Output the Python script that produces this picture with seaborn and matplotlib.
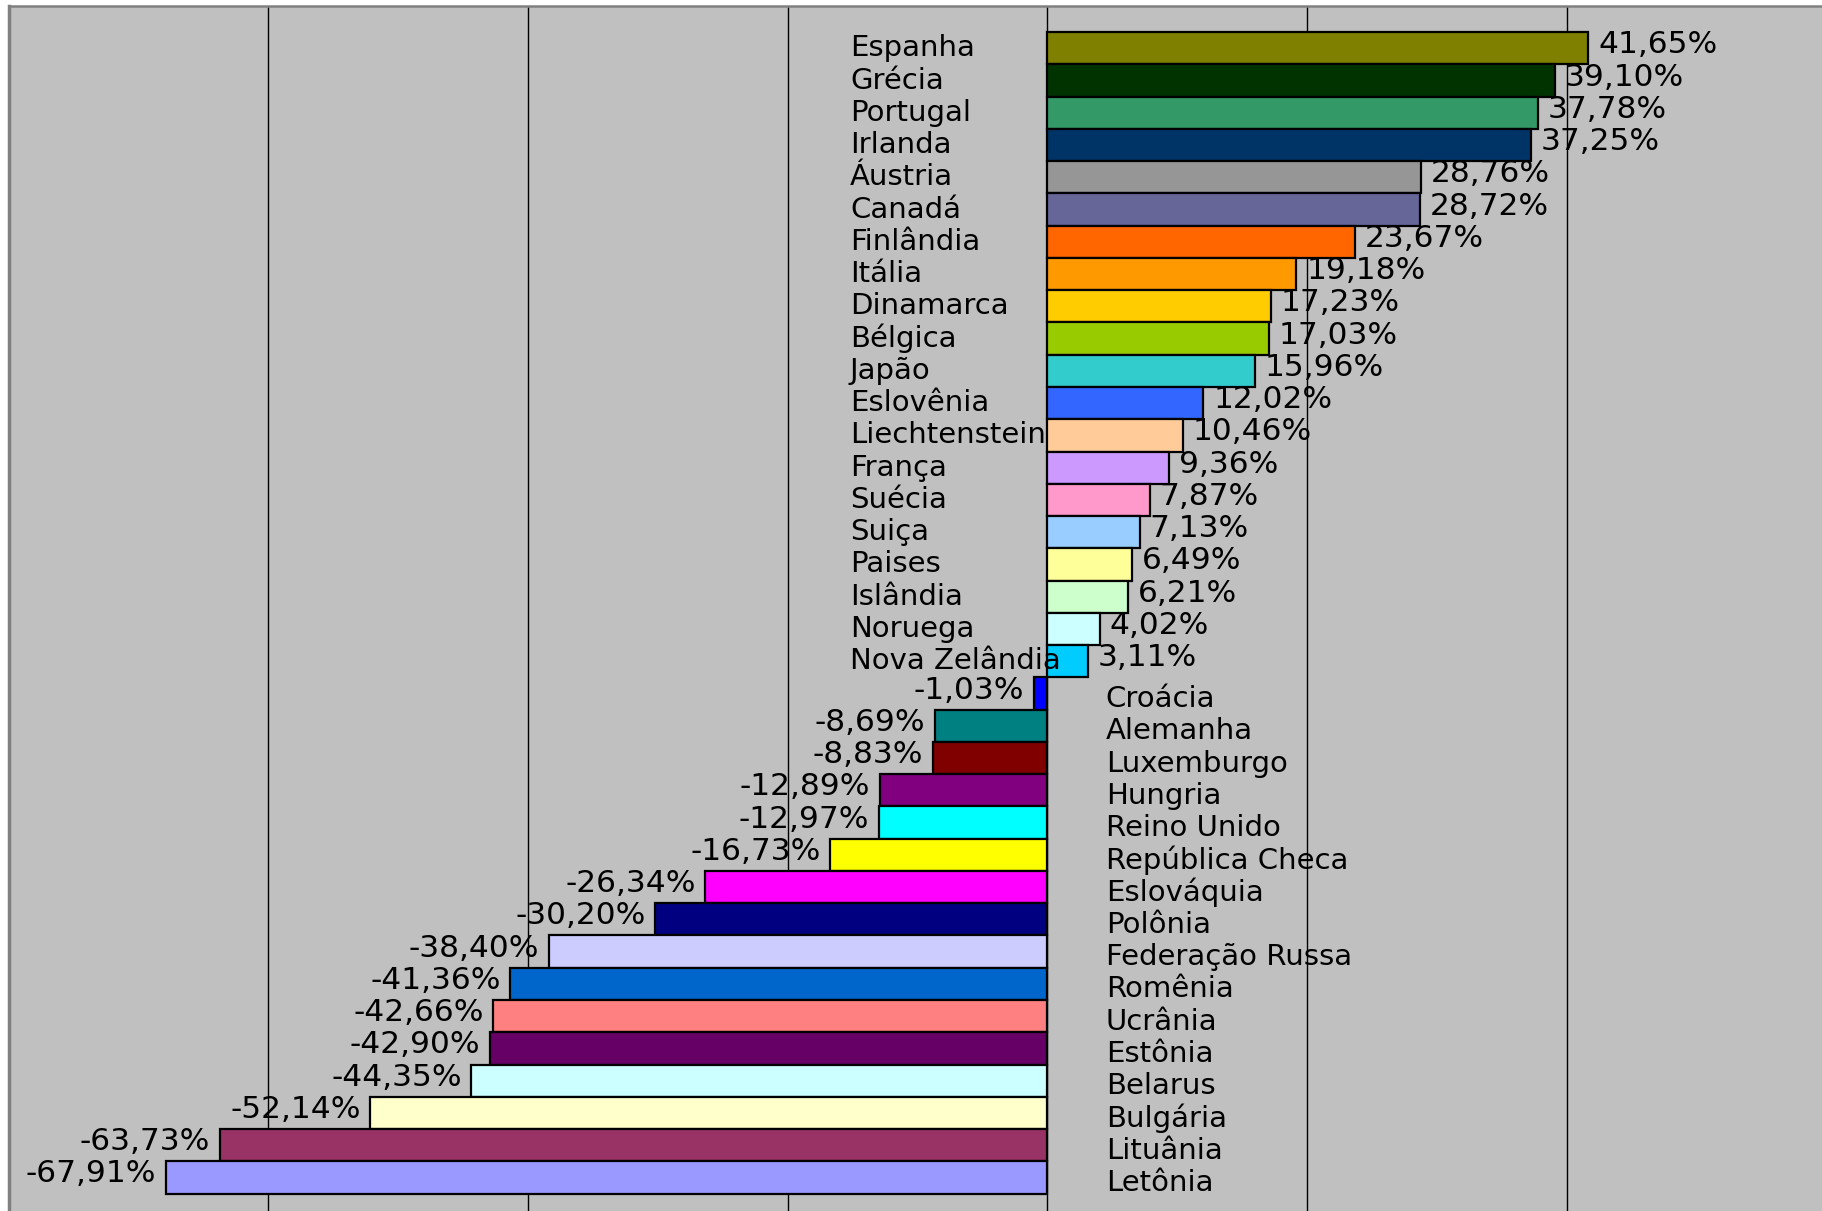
import numpy as np
import pandas as pd
import matplotlib
matplotlib.use("Agg")
import matplotlib.pyplot as plt
import seaborn as sns

# dados (variação %)
paises = ["Espanha", "Grécia", "Portugal", "Irlanda", "Áustria", "Canadá", "Finlândia",
          "Itália", "Dinamarca", "Bélgica", "Japão", "Eslovênia", "Liechtenstein", "França",
          "Suécia", "Suiça", "Paises", "Islândia", "Noruega", "Nova Zelândia",
          "Croácia", "Alemanha", "Luxemburgo", "Hungria", "Reino Unido", "República Checa",
          "Eslováquia", "Polônia", "Federação Russa", "Romênia", "Ucrânia", "Estônia",
          "Belarus", "Bulgária", "Lituânia", "Letônia"]
valores = [41.65, 39.10, 37.78, 37.25, 28.76, 28.72, 23.67, 19.18, 17.23, 17.03, 15.96,
           12.02, 10.46, 9.36, 7.87, 7.13, 6.49, 6.21, 4.02, 3.11,
           -1.03, -8.69, -8.83, -12.89, -12.97, -16.73, -26.34, -30.20, -38.40, -41.36,
           -42.66, -42.90, -44.35, -52.14, -63.73, -67.91]
cores = ["#808000", "#003300", "#339966", "#003366", "#969696", "#666699", "#FF6600",
         "#FF9900", "#FFCC00", "#99CC00", "#33CCCC", "#3366FF", "#FFCC99", "#CC99FF",
         "#FF99CC", "#99CCFF", "#FFFF99", "#CCFFCC", "#CCFFFF", "#00CCFF",
         "#0000FF", "#008080", "#800000", "#800080", "#00FFFF", "#FFFF00",
         "#FF00FF", "#000080", "#CCCCFF", "#0066CC", "#FF8080", "#660066",
         "#CCFFFF", "#FFFFCC", "#993366", "#9999FF"]

df = pd.DataFrame({"pais": paises, "valor": valores})
paleta = dict(zip(paises, cores))

plt.rcParams["font.family"] = ["DejaVu Sans"]

fig = plt.figure(figsize=(18.22, 12.11), dpi=100)
fig.patch.set_facecolor("white")
ax = fig.add_axes([8.5 / 1822, 0.0, 1 - 8.5 / 1822, 1 - 6 / 1211])
ax.set_facecolor("#C0C0C0")

sns.barplot(data=df, y="pais", x="valor", hue="pais", palette=paleta, orient="h",
            width=1.0, dodge=False, legend=False, saturation=1, edgecolor="black",
            linewidth=1.6, ax=ax, zorder=3)

ax.set_xlim(-80, 59.65)
ax.set_ylim(36.04, -1.31)
ax.set_xticks([-60, -40, -20, 0, 20, 40])
ax.grid(axis="x", color="black", linewidth=1.0, zorder=0)
ax.set_axisbelow(True)
ax.tick_params(left=False, bottom=False, labelleft=False, labelbottom=False)
ax.set_xlabel("")
ax.set_ylabel("")

for lado in ["right", "bottom"]:
    ax.spines[lado].set_visible(False)
ax.spines["left"].set_color("#808080")
ax.spines["left"].set_linewidth(2.5)
ax.spines["top"].set_color("#808080")
ax.spines["top"].set_linewidth(1.8)

fs_nome = 21
fs_valor = 22.5
for i, (p, v) in enumerate(zip(paises, valores)):
    txt = f"{v:.2f}%".replace(".", ",")
    if v >= 0:
        ax.text(-15.2, i, p, ha="left", va="center", fontsize=fs_nome, zorder=5)
        ax.annotate(txt, xy=(v, i), xytext=(7, 2.5), textcoords="offset points",
                    ha="left", va="center", fontsize=fs_valor, zorder=5)
    else:
        ax.annotate(p, xy=(4.5, i), xytext=(0, -4), textcoords="offset points",
                    ha="left", va="center", fontsize=fs_nome, zorder=5)
        ax.annotate(txt, xy=(v, i), xytext=(-7, 2.5), textcoords="offset points",
                    ha="right", va="center", fontsize=fs_valor, zorder=5)

fig.savefig("out.png", dpi=100, facecolor="white")
